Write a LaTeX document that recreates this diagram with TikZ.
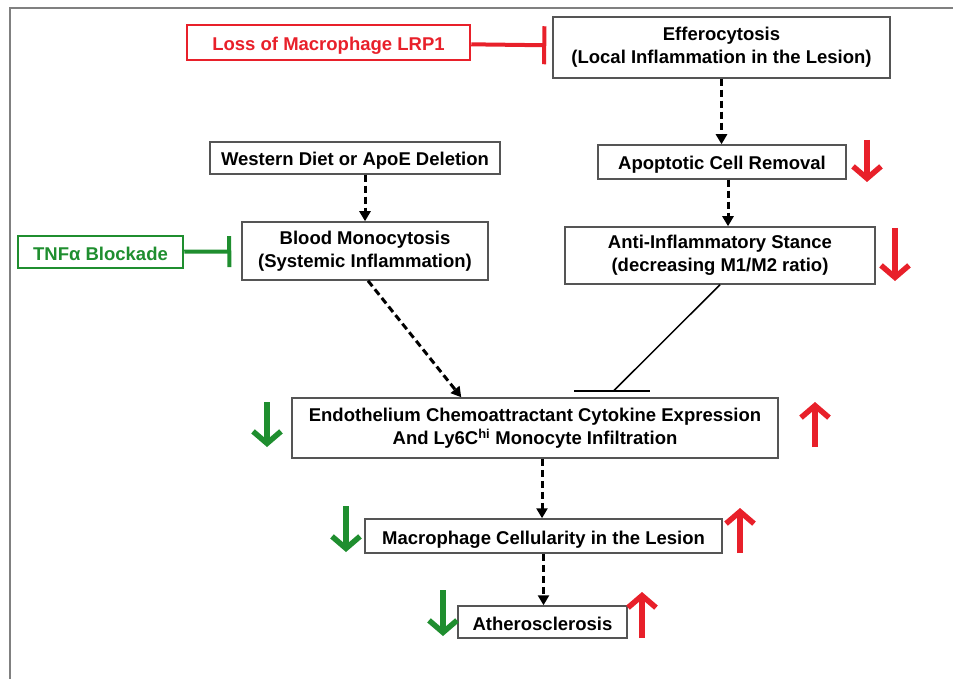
\documentclass[tikz,border=0pt]{standalone}
\usepackage{fontspec}
\setmainfont{Liberation Sans}
\usetikzlibrary{arrows.meta}

\definecolor{boxgray}{HTML}{555555}
\definecolor{upred}{HTML}{E8202A}
\definecolor{downgreen}{HTML}{1F8E2F}

\begin{document}
\begin{tikzpicture}[x=1pt,y=-1pt,
  box/.style={draw=boxgray,line width=1.5pt,align=center,inner sep=0pt,
    font=\fontsize{18.5}{23}\selectfont\bfseries},
  oneline/.style={text height=16pt,text depth=0pt},
  dasharrow/.style={line width=3pt,dash pattern=on 7pt off 4pt,
    -{Triangle[length=10pt,width=11pt]}},
  updown/.style={line width=5.5pt,-{Straight Barb[length=12pt,width=28pt,line width=5.5pt]}},
  inhibit/.style={line width=4pt,-{Bar[width=38pt,line width=4pt]}}]
\useasboundingbox (0,0) rectangle (953,679);
\draw[gray,line width=2.5pt] (953,8) -- (10,8) -- (10,679);

\node[box,oneline,draw=upred,line width=2.5pt,text=upred,minimum width=283,minimum height=35] (lrp) at (328.5,42.5) {Loss of Macrophage LRP1};
\node[box,minimum width=337,minimum height=61] (effero) at (721.5,47.5) {Efferocytosis\\(Local Inflammation in the Lesion)};
\node[box,oneline,minimum width=248,minimum height=34] (apop) at (722,162) {Apoptotic Cell Removal};
\node[box,minimum width=310,minimum height=57] (anti) at (720,255.5) {Anti-Inflammatory Stance\\(decreasing M1/M2 ratio)};
\node[box,oneline,minimum width=290,minimum height=32] (western) at (355,158) {Western Diet or ApoE Deletion};
\node[box,minimum width=246,minimum height=58] (blood) at (365,251) {Blood Monocytosis\\(Systemic Inflammation)};
\node[box,oneline,draw=downgreen,line width=2.5pt,text=downgreen,minimum width=165,minimum height=32] (tnf) at (100.5,252) {TNFα Blockade};
\node[box,minimum width=486,minimum height=60] (endo) at (535,428) {Endothelium Chemoattractant Cytokine Expression\\And Ly6C\textsuperscript{hi} Monocyte Infiltration};
\node[box,oneline,minimum width=357,minimum height=34] (macro) at (543.5,536) {Macrophage Cellularity in the Lesion};
\node[box,oneline,minimum width=169,minimum height=32] (athero) at (542.5,622) {Atherosclerosis};
\coordinate (inh) at ([xshift=322pt,yshift=6pt]endo.north west);

\draw[inhibit,upred,shorten >=6pt] (lrp) -- (effero);
\draw[inhibit,downgreen,-{Bar[width=31pt,line width=4pt]},shorten >=10pt] (tnf) -- (blood);

\draw[dasharrow] (effero.south) -- (effero.south |- apop.north);
\draw[dasharrow] ([xshift=6pt]apop.south) -- ([xshift=6pt]apop.south |- anti.north);
\draw[dasharrow] (blood.north |- western.south) -- (blood.north);
\draw[dasharrow] ([xshift=3pt]blood.south) -- ([xshift=170pt]endo.north west);
\draw[line width=1.5pt] (anti.south) -- (inh);
\draw[line width=2pt] ([xshift=-39pt]inh) -- ([xshift=37pt]inh);
\draw[dasharrow] ([xshift=7pt]endo.south) -- ([xshift=7pt]endo.south |- macro.north);
\draw[dasharrow] (macro.south) -- (macro.south |- athero.north);

\draw[updown,upred] (867,140) -- (867,182);
\draw[updown,upred] (895,228) -- (895,281);
\draw[updown,downgreen] (267,402) -- (267,447);
\draw[updown,upred] (815,447) -- (815,402);
\draw[updown,downgreen] (346,506) -- (346,552);
\draw[updown,upred] (740,553) -- (740,508);
\draw[updown,downgreen] (443,590) -- (443,636);
\draw[updown,upred] (642,638) -- (642,592);
\end{tikzpicture}
\end{document}
